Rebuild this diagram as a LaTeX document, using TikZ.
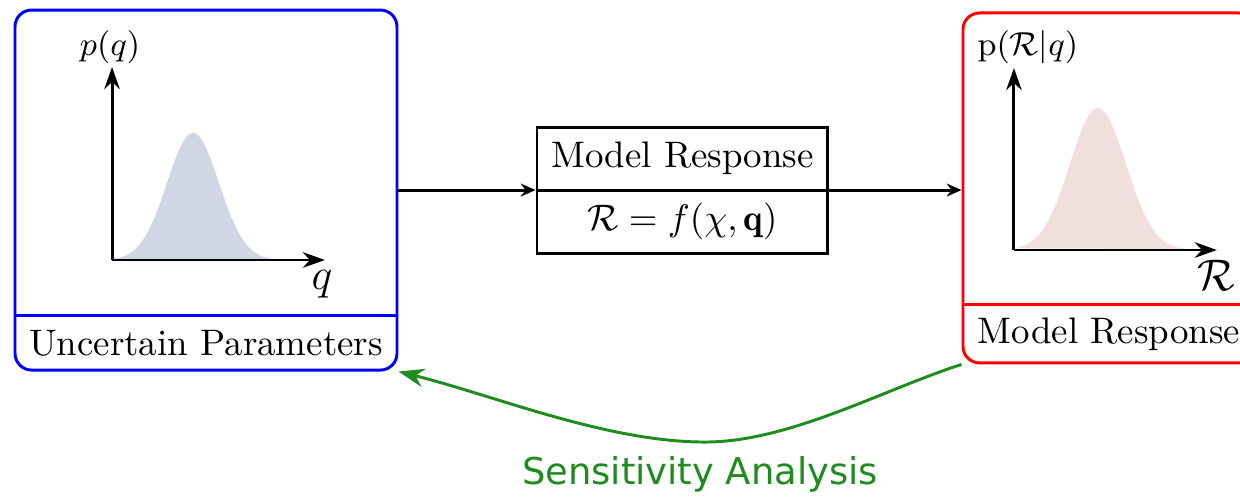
\documentclass[tikz,border=0pt]{standalone}
\usepackage{amsmath, amssymb}
\usepackage{fontspec}
\usepackage{xcolor}
\usepackage{tikz}
\usetikzlibrary{arrows.meta}
\newfontfamily\sensfont{DejaVu Sans}
\definecolor{qfill}{RGB}{209,214,228}
\definecolor{rfill}{RGB}{240,223,221}
\definecolor{sensgreen}{RGB}{30,140,30}
\tikzset{
  outerbox/.style={draw, thick, rounded corners=4.5pt, inner sep=0pt},
  partlbl/.style={inner sep=0pt},
  axis/.style={-{Stealth[length=6pt,width=4.2pt]}, thick},
  conn/.style={-{Stealth[length=4pt,width=3.5pt]}, thick},
  sens/.style={-{Stealth[length=7pt,width=5pt]}, thick, sensgreen}
}

\begin{document}
\begin{tikzpicture}[scale=1.0]
        \useasboundingbox (0,0) rectangle (11.810,-4.724);
        % Uncertain parameters box
        \node[outerbox, draw=blue, minimum width=3.638cm, minimum height=3.429cm]
          (param) at (1.962,-1.810) {};
        \node[partlbl, minimum height=0.514cm] (paramlbl) at (1.962,-3.267)
          {Uncertain Parameters};
        \draw[blue, thick] (param.west |- paramlbl.north) -- (param.east |- paramlbl.north);
        % Prior density
        \fill[qfill] plot[domain=1.067:2.9, samples=80]
          (\x, {-2.476+1.21*exp(-((\x-1.838)^2)/0.1230)}) -- cycle;
        \coordinate (qo) at (1.067,-2.476);
        \draw[axis] (qo) -- (1.067,-0.638);
        \draw[axis] (qo) -- (3.095,-2.476);
        \node[font=\small] (qylbl) at (1.048,-0.448) {$p(q)$};
        \node[font=\large] (qxlbl) at (3.067,-2.705) {$q$};
        % Model
        \node[draw, thick, minimum width=2.771cm, minimum height=1.2cm]
          (model) at (6.5,-1.810) {};
        \node (modeltop) at (6.5,-1.505) {Model Response};
        \node (modelbot) at (6.5,-2.105) {$\mathcal{R} = f(\chi,\mathbf{q})$};
        \draw[thick] (model.west) -- (model.east);
        % Model response box
        \node[outerbox, draw=red, minimum width=2.781cm, minimum height=3.333cm]
          (resp) at (10.562,-1.790) {};
        \node[partlbl, minimum height=0.552cm] (resplbl) at (10.562,-3.181)
          {Model Response};
        \draw[red, thick] (resp.west |- resplbl.north) -- (resp.east |- resplbl.north);
        % Response density
        \fill[rfill] plot[domain=9.657:11.3, samples=80]
          (\x, {-2.381+1.352*exp(-((\x-10.457)^2)/0.1424)}) -- cycle;
        \coordinate (ro) at (9.657,-2.381);
        \draw[axis] (ro) -- (9.657,-0.648);
        \draw[axis] (ro) -- (11.590,-2.381);
        \node[font=\small] (rylbl) at (9.790,-0.448) {$\mathrm{p}(\mathcal{R}|q)$};
        \node[font=\large] (rxlbl) at (11.581,-2.619) {$\mathcal{R}$};
        % Connectors
        \draw[conn] (param.east) -- (model.west);
        \draw[conn] (model.east) -- (model.east -| resp.west);
        \coordinate (sensbot) at (6.714,-4.210);
        \draw[sens] (resp.south west) to[out=198, in=0, looseness=0.8] (sensbot)
          to[out=180, in=-14, looseness=0.8] (param.south east);
        \node[sensgreen, font=\sensfont] (senslbl) at (6.667,-4.514) {Sensitivity Analysis};
      \end{tikzpicture}
\end{document}
